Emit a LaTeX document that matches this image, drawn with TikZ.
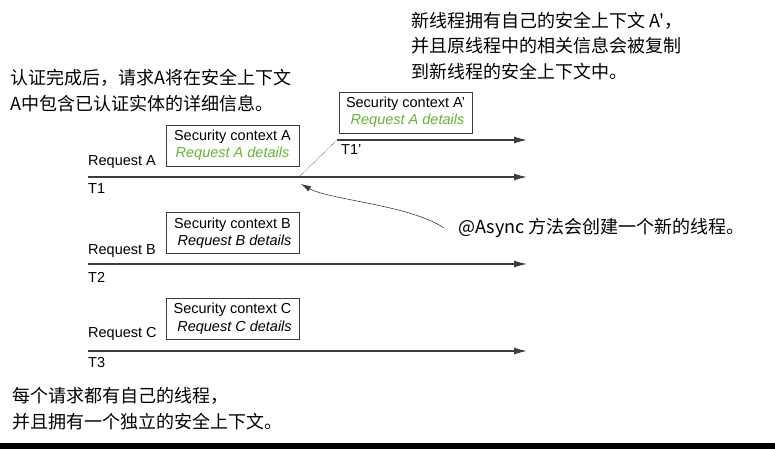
\documentclass[tikz,border=0pt]{standalone}
\usepackage{fontspec}
\setmainfont{Liberation Sans}
\newfontfamily\cjk{Noto Sans CJK SC}
\usetikzlibrary{arrows.meta}
\definecolor{lineC}{RGB}{60,60,60}
\definecolor{detailG}{RGB}{100,180,50}
\begin{document}
\begin{tikzpicture}[x=1pt,y=-1pt,
  ctxbox/.style={draw=lineC, line width=0.9pt, minimum width=133pt, minimum height=41pt, inner sep=0pt, align=center, font=\fontsize{14.5}{17.5}\selectfont},
  lbl/.style={anchor=west, inner sep=0pt, font=\fontsize{14.5}{17}\selectfont},
  note/.style={anchor=west, inner sep=0pt, align=left, font=\cjk\fontsize{18}{25.5}\selectfont},
  thread/.style={draw=lineC, line width=1.1pt, -{Latex[length=13pt,width=7pt]}},
]
\useasboundingbox (0,0) rectangle (775,449);
\fill[black] (0,443) rectangle (775,449);

% notes
\node[note] (noteTop) at (411,46) {新线程拥有自己的安全上下文 A'，\\并且原线程中的相关信息会被复制\\到新线程的安全上下文中。};
\node[note] (noteLeft) at (10,90.5) {认证完成后，请求A将在安全上下文\\A中包含已认证实体的详细信息。};
\node[note] (noteBottom) at (12,408.5) {每个请求都有自己的线程，\\并且拥有一个独立的安全上下文。};
\node[note] (async) at (458,228) {@Async 方法会创建一个新的线程。};

% thread lines
\coordinate (t1s) at (88,177);
\coordinate (t1e) at (527,177);
\coordinate (fork) at (299,177);
\coordinate (t1ps) at (337,140);
\coordinate (t1pe) at (527,140);
\coordinate (t2s) at (88,264);
\coordinate (t2e) at (527,264);
\coordinate (t3s) at (88,351);
\coordinate (t3e) at (527,351);
\coordinate (tip) at (301,184);

\draw[thread] (t1s) -- (t1e);
\draw[thread] (t1ps) -- (t1pe);
\draw[lineC, line width=0.6pt, densely dotted] (fork) -- (t1ps);
\draw[thread] (t2s) -- (t2e);
\draw[thread] (t3s) -- (t3e);

% labels
\node[lbl] (reqA) at (88,162) {Request A};
\node[lbl] (lT1) at (88,189) {T1};
\node[lbl] (lT1p) at (341,150) {T1'};
\node[lbl] (reqB) at (88,251) {Request B};
\node[lbl] (lT2) at (88,277) {T2};
\node[lbl] (reqC) at (88,334) {Request C};
\node[lbl] (lT3) at (88,363) {T3};

% context boxes
\node[ctxbox] (ctxA) at (232.5,145.5) {Security context A\\{\color{detailG}\itshape Request A details}};
\node[ctxbox] (ctxAp) at (405.5,112.5) {Security context A'\\{\color{detailG}\itshape \ Request A details}};
\node[ctxbox] (ctxB) at (232.5,233) {Security context B\\{\itshape \ Request B details}};
\node[ctxbox] (ctxC) at (232.5,318.5) {Security context C\\{\itshape \ Request C details}};

% async arrow
\draw[lineC, line width=0.6pt, -{Latex[length=10pt,width=6pt]}] ([xshift=-14pt]async.west) .. controls (410,205) and (330,200) .. (tip);
\end{tikzpicture}
\end{document}
